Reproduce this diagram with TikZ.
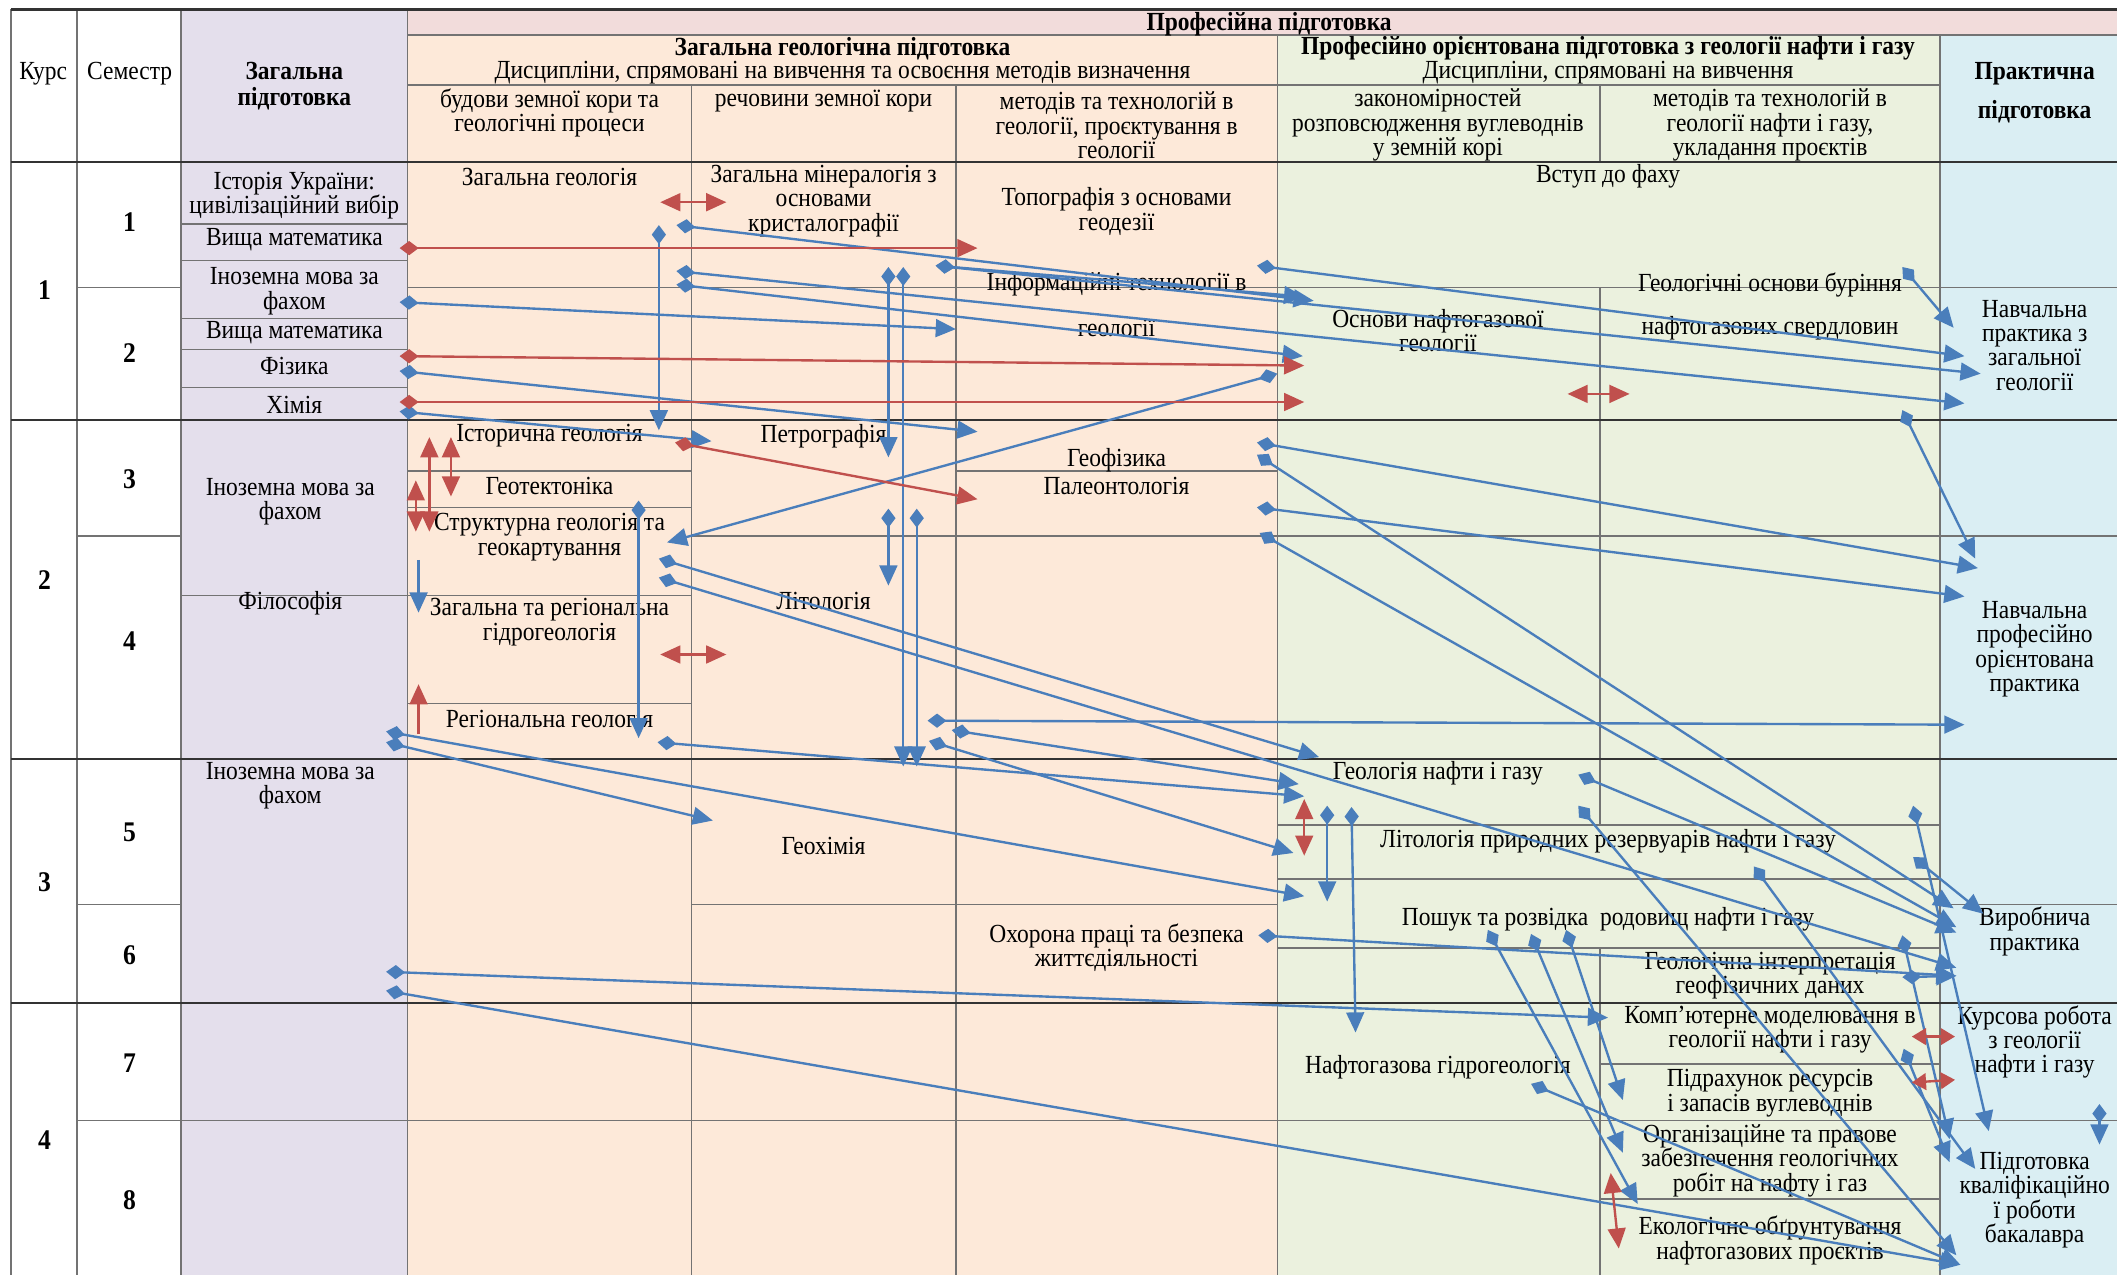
\documentclass[tikz,border=0pt]{standalone}
\usepackage{fontspec}
\setmainfont{Liberation Serif}[FakeStretch=0.9]
\usetikzlibrary{arrows.meta}
\definecolor{zagal}{HTML}{E4DFEC}
\definecolor{profp}{HTML}{F2DCDB}
\definecolor{geol}{HTML}{FDE9D9}
\definecolor{naft}{HTML}{EBF1DE}
\definecolor{prakt}{HTML}{DAEEF3}
\definecolor{arrblue}{HTML}{4A7EBB}
\definecolor{arrred}{HTML}{C0504D}
\tikzset{Dia/.tip={Diamond[length=8pt,width=6pt]},
         Tri/.tip={Triangle[length=8.5pt,width=7.5pt]},
         Tsm/.tip={Triangle[length=6pt,width=7pt]}}
\begin{document}
\begin{tikzpicture}[x=0.02cm,y=-0.02cm,
        every node/.style={font=\fontsize{11}{10.3}\selectfont,align=center,inner sep=0pt,yshift=-1pt},
        hd/.style={font=\bfseries\fontsize{11}{10.8}\selectfont},
        num/.style={font=\bfseries\fontsize{12}{12}\selectfont},
        grid/.style={draw=black!55,line width=0.6pt},
        rowline/.style={draw=black!80,line width=0.9pt},
        bl/.style={draw=arrblue,line width=1pt,Dia-Tri},
        blp/.style={draw=arrblue,line width=1pt,-Tri},
        rd/.style={draw=arrred,line width=1pt,Dia-Tri},
        rdp/.style={draw=arrred,line width=1pt,-Tri},
        rdd/.style={draw=arrred,line width=1pt,Tri-Tri},
        rds/.style={draw=arrred,line width=1pt,Tsm-Tsm}]
    \useasboundingbox (0,0) rectangle (1568,944);
    % column fills
    \fill[white] (0,0) rectangle (1568,944);
    \fill[zagal] (134,7) rectangle (302,944);
    \fill[profp] (302,7) rectangle (1568,26);
    \fill[geol] (302,26) rectangle (946,944);
    \fill[naft] (946,26) rectangle (1437,944);
    \fill[prakt] (1437,26) rectangle (1568,944);

    % table grid
    \foreach \x in {8,57,134,302} \draw[grid] (\x,7) -- (\x,944);
    \foreach \x in {512,708} \draw[grid] (\x,63) -- (\x,944);
    \foreach \x in {946,1437} \draw[grid] (\x,26) -- (\x,944);
    \draw[grid] (1185,63) -- (1185,120) (1185,213) -- (1185,611) (1185,702) -- (1185,944);
    \draw[rowline] (8,7) -- (1568,7);
    \draw[grid] (302,26) -- (1568,26) (302,63) -- (1437,63);
    \foreach \y in {120,311,562,743} \draw[rowline] (8,\y) -- (1568,\y);
    \draw[grid] (57,213) -- (134,213) (302,213) -- (1568,213);
    \draw[grid] (57,397) -- (134,397) (512,397) -- (1568,397);
    \draw[grid] (57,670) -- (134,670) (512,670) -- (946,670) (1437,670) -- (1568,670);
    \draw[grid] (57,830) -- (1568,830);
    \foreach \y in {166,193,236,259,287} \draw[grid] (134,\y) -- (302,\y);
    \draw[grid] (134,441) -- (512,441);
    \foreach \y in {349,376,521} \draw[grid] (302,\y) -- (512,\y);
    \draw[grid] (708,349) -- (946,349);
    \foreach \y in {611,651,702} \draw[grid] (946,\y) -- (1437,\y);
    \draw[grid] (1185,788) -- (1437,788) (1185,888) -- (1437,888);

    % header
    \node (kurs) at (32,53) {Курс};
    \node (sem) at (96,53) {Семестр};
    \node[hd] (zagp) at (218,62) {Загальна\\підготовка};
    \node[hd] (profp) at (940,16) {Професійна підготовка};
    \node[hd] (zgp) at (624,34) {Загальна геологічна підготовка};
    \node (zgpd) at (624,52) {Дисципліни, спрямовані на вивчення та освоєння методів визначення};
    \node[hd] (pop) at (1191,34) {Професійно орієнтована підготовка з геології нафти і газу};
    \node (popd) at (1191,52) {Дисципліни, спрямовані на вивчення};
    \node[hd] (prp1) at (1507,53) {Практична};
    \node[hd] (prp2) at (1507,81) {підготовка};
    \node (h1) at (407,82) {будови земної кори та\\геологічні процеси};
    \node (h2) at (610,73) {речовини земної кори};
    \node (h3) at (827,91) {методів та технологій в\\геології, проєктування в\\геології};
    \node (h4) at (1065,91) {закономірностей\\розповсюдження вуглеводнів\\у земній корі};
    \node (h5) at (1311,91) {методів та технологій в\\геології нафти і газу,\\укладання проєктів};

    % course and semester numbers
    \foreach \k/\y in {1/213,2/428,3/652,4/843} \node[num] (k\k) at (33,\y) {\k};
    \foreach \s/\y in {1/163,2/260,3/353,4/473,5/615,6/706,7/786,8/887} \node[num] (s\s) at (96,\y) {\s};

    % general training
    \node (ist) at (218,143) {Історія України:\\цивілізаційний вибір};
    \node (vm1) at (218,176) {Вища математика};
    \node (im1) at (218,214) {Іноземна мова за\\фахом};
    \node (vm2) at (218,245) {Вища математика};
    \node (fiz) at (218,269) {Фізика};
    \node (him) at (218,298) {Хімія};
    \node (im2) at (215,370) {Іноземна мова за\\фахом};
    \node (fil) at (215,445) {Філософія};
    \node (im3) at (215,580) {Іноземна мова за\\фахом};

    % general geological training
    \node (zg) at (407,129) {Загальна геологія};
    \node (istg) at (407,321) {Історична геологія};
    \node (gtek) at (407,358) {Геотектоніка};
    \node (strg) at (407,396) {Структурна геологія та\\геокартування};
    \node (gidr) at (407,459) {Загальна та регіональна\\гідрогеологія};
    \node (regg) at (407,531) {Регіональна геологія};
    \node (min) at (610,147) {Загальна мінералогія з\\основами\\кристалографії};
    \node (petr) at (610,321) {Петрографія};
    \node (lit) at (610,443) {Літологія};
    \node (ghim) at (610,625) {Геохімія};
    \node (topo) at (827,155) {Топографія з основами\\геодезії};
    \node (inf1) at (827,209) {Інформаційні технології в};
    \node (inf2) at (827,241) {геології};
    \node (gfiz) at (827,339) {Геофізика};
    \node (pal) at (827,358) {Палеонтологія};
    \node (ohor) at (827,700) {Охорона праці та безпека\\життєдіяльності};

    % oil and gas geology
    \node (vstup) at (1191,129) {Вступ до фаху};
    \node (osn) at (1065,243) {Основи нафтогазової\\геології};
    \node (bur1) at (1311,209) {Геологічні основи буріння};
    \node (bur2) at (1311,241) {нафтогазових свердловин};
    \node (gng) at (1065,571) {Геологія нафти і газу};
    \node (lpr) at (1191,621) {Літологія природних резервуарів нафти і газу};
    \node (posh) at (1191,679) {Пошук та розвідка\ \ родовищ нафти і газу};
    \node (gint) at (1311,721) {Геологічна інтерпретація\\геофізичних даних};
    \node (ngg) at (1065,789) {Нафтогазова гідрогеологія};
    \node (komp) at (1311,761) {Комп’ютерне моделювання в\\геології нафти і газу};
    \node (pidr) at (1311,808) {Підрахунок ресурсів\\і запасів вуглеводнів};
    \node (org) at (1311,858) {Організаційне та правове\\забезпечення геологічних\\робіт на нафту і газ};
    \node (eko) at (1311,917) {Екологічне обґрунтування\\нафтогазових проєктів};

    % practical training
    \node (np1) at (1507,254) {Навчальна\\практика з\\загальної\\геології};
    \node (np2) at (1507,479) {Навчальна\\професійно\\орієнтована\\практика};
    \node (vyr) at (1507,688) {Виробнича\\практика};
    \node (kurr) at (1507,770) {Курсова робота\\з геології\\нафти і газу};
    \node (kval) at (1507,887) {Підготовка\\кваліфікаційно\\ї роботи\\бакалавра};

    % blue links
    \foreach \a/\b/\c/\d [count=\i] in {488/165/488/317, 501/165/973/221, 501/199/1455/297,
            501/209/965/262, 296/222/708/242, 658/196/658/337, 669/196/669/566,
            693/195/966/218, 693/195/1467/275, 931/195/1455/262, 1409/196/1447/241,
            296/273/724/318, 296/303/527/325, 946/275/494/400, 1409/302/1463/412,
            931/326/1465/419, 931/335/1447/671, 931/374/1455/440, 933/393/1449/685,
            658/375/658/432, 679/375/679/566, 473/369/473/545, 488/412/977/559,
            488/426/1449/715, 687/532/1455/535, 705/539/962/579, 688/547/958/630,
            487/548/966/588, 286/540/966/662, 286/548/528/606, 983/595/983/666,
            1001/596/1004/763, 1169/572/1449/689, 1169/595/1449/928, 1417/595/1473/836,
            1417/633/1469/675, 1299/640/1463/864, 1102/687/1213/890, 1134/690/1202/852,
            1160/687/1202/813, 932/691/1449/721, 1409/691/1444/842, 1409/722/1449/721,
            1410/775/1444/859, 1134/801/1452/935, 286/718/1191/752, 286/732/1452/935,
            1555/816/1555/846} {
        \coordinate (bs\i) at (\a,\b);
        \coordinate (be\i) at (\c,\d);
        \draw[bl] (bs\i) -- (be\i);
    }
    \coordinate (gs) at (310,413);
    \coordinate (ge) at (310,452);
    \draw[blp] (gs) -- (ge);

    % red links
    \foreach \a/\b/\c/\d [count=\i] in {296/182/724/182, 296/262/966/269,
            296/296/966/296, 500/326/724/368} {
        \coordinate (rs\i) at (\a,\b);
        \coordinate (re\i) at (\c,\d);
        \draw[rd] (rs\i) -- (re\i);
    }
    \coordinate (us) at (310,542);
    \coordinate (ue) at (310,505);
    \draw[rdp] (us) -- (ue);
    \foreach \a/\b/\c/\d [count=\i] in {489/148/538/148, 1161/290/1207/290,
            308/354/308/392, 318/322/318/392, 334/322/334/366, 489/483/538/483,
            966/590/966/632, 1193/867/1199/923} {
        \coordinate (ds\i) at (\a,\b);
        \coordinate (de\i) at (\c,\d);
        \draw[rdd] (ds\i) -- (de\i);
    }
    % short pairs next to the course work
    \coordinate (ks1) at (1416,766);
    \coordinate (ke1) at (1448,766);
    \coordinate (ks2) at (1416,800);
    \coordinate (ke2) at (1448,798);
    \draw[rds] (ks1) -- (ke1);
    \draw[rds] (ks2) -- (ke2);
\end{tikzpicture}
\end{document}
